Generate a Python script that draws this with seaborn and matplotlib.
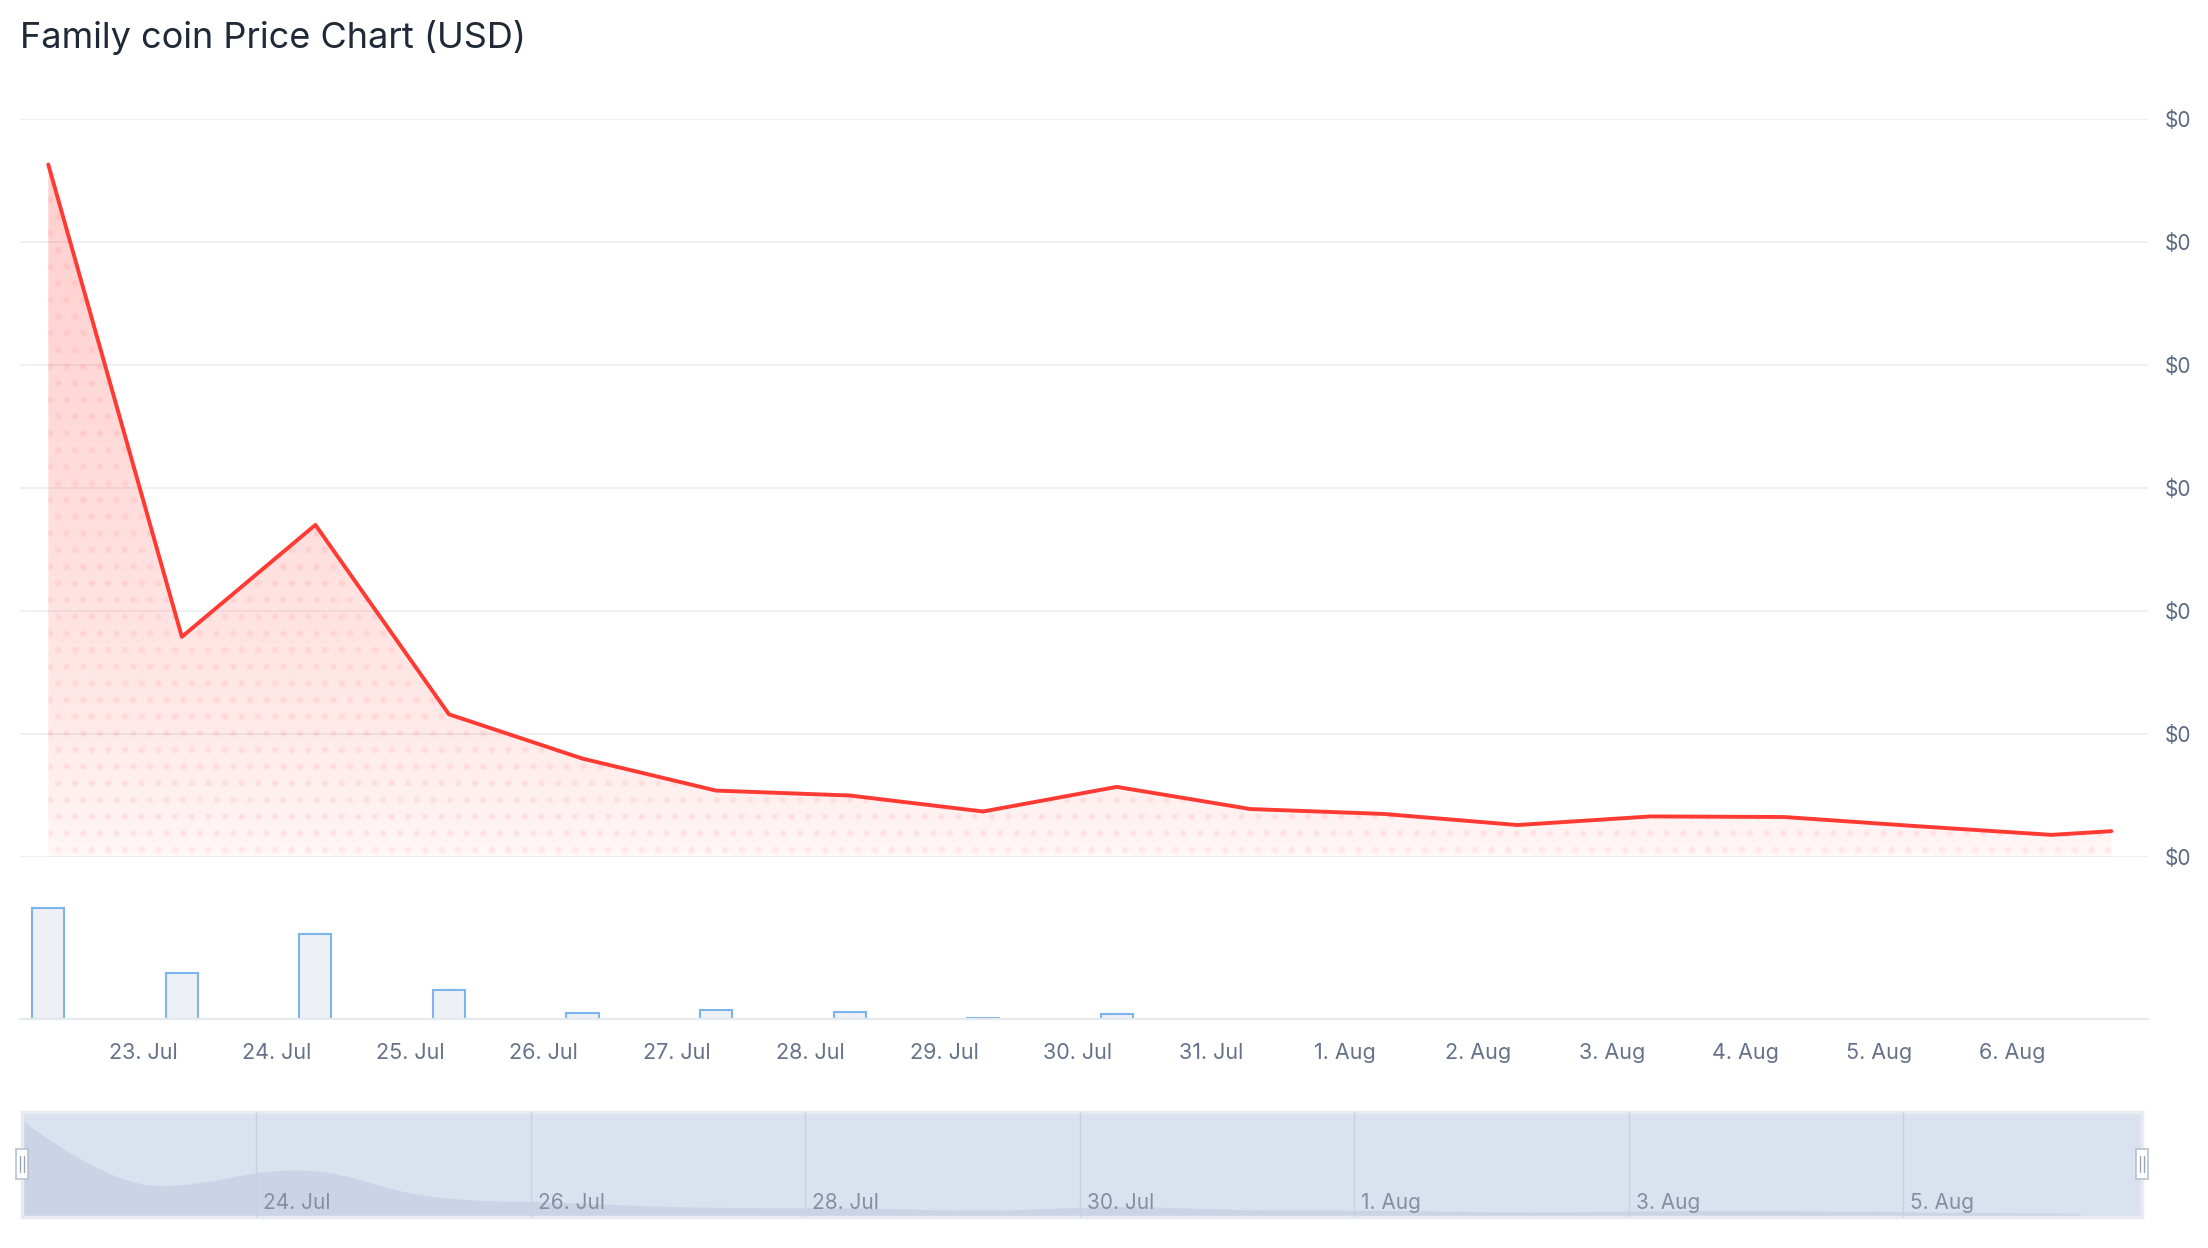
import matplotlib
matplotlib.use("Agg")
import matplotlib.pyplot as plt
import matplotlib.dates as mdates
from matplotlib.path import Path
from matplotlib.patches import PathPatch, Rectangle
from matplotlib.colors import to_rgb
from matplotlib.ticker import FuncFormatter
import numpy as np
import pandas as pd
import seaborn as sns

# values (price in nano-USD, volume in relative units)
dates = ["2023-07-22 07:00", "2023-07-23 07:00", "2023-07-24 07:00", "2023-07-25 07:00",
         "2023-07-26 07:00", "2023-07-27 07:00", "2023-07-28 07:00", "2023-07-29 07:00",
         "2023-07-30 07:00", "2023-07-31 07:00", "2023-08-01 07:00", "2023-08-02 07:00",
         "2023-08-03 07:00", "2023-08-04 07:00", "2023-08-05 07:00", "2023-08-06 07:00",
         "2023-08-06 17:45"]
prices = [5.63, 1.79, 2.70, 1.16, 0.80, 0.54, 0.50, 0.37, 0.57, 0.39, 0.35, 0.26,
          0.33, 0.325, 0.25, 0.18, 0.21]
volumes = [111, 46, 85, 29, 6, 9, 7, 1.5, 5, 0, 0, 0, 0, 0, 0, 0, 0]
nav_ticks = ["2023-07-24", "2023-07-26", "2023-07-28", "2023-07-30",
             "2023-08-01", "2023-08-03", "2023-08-05"]
nav_labels = ["24. Jul", "26. Jul", "28. Jul", "30. Jul", "1. Aug", "3. Aug", "5. Aug"]
title = "Family coin Price Chart (USD)"

RED = "#ff3a33"
GRID = "#edf0f4"

sns.set_style("white")
plt.rcParams["font.family"] = ["Inter", "DejaVu Sans"]
plt.rcParams["hatch.linewidth"] = 2.8

df = pd.DataFrame({"date": pd.to_datetime(dates), "price": prices, "volume": volumes})
xnum = mdates.date2num(df["date"])

W, H = 2208, 1248
fig = plt.figure(figsize=(W / 100, H / 100), dpi=100)


def box(l, t, r, b):
    return [l / W, 1 - b / H, (r - l) / W, (b - t) / H]


ax = fig.add_axes(box(20, 119, 2148, 857))
axv = fig.add_axes(box(20, 890, 2148, 1019), sharex=ax)
axn = fig.add_axes(box(22, 1112, 2142, 1217))

# --- price line with gradient + dotted fill
sns.lineplot(data=df, x="date", y="price", ax=ax, color=RED, linewidth=2.8, zorder=4)
poly = ax.fill_between(xnum, df["price"], 0, facecolor="none", edgecolor="none", lw=0)
ymax = df["price"].max()
yy = np.linspace(0, ymax, 256)
grad = np.zeros((256, 2, 4))
grad[..., :3] = to_rgb(RED)
grad[..., 3] = (0.03 + 0.21 * (yy / ymax) ** 0.6)[:, None]
img = ax.imshow(grad, extent=[xnum[0], xnum[-1], 0, ymax], origin="lower",
                aspect="auto", zorder=1, interpolation="bilinear")
img.set_clip_path(poly.get_paths()[0], ax.transData)
ax.fill_between(xnum, df["price"], 0, facecolor="none", edgecolor=(1, 0.25, 0.25, 0.06),
                hatch=".", lw=0, zorder=2)

ax.set_xlim(mdates.date2num(pd.Timestamp("2023-07-22 01:55")),
            mdates.date2num(pd.Timestamp("2023-08-07 00:20")))
ax.set_ylim(0, 6)
ax.set_yticks(range(7))
ax.yaxis.tick_right()
ax.yaxis.set_major_formatter(FuncFormatter(lambda v, p: f"${v * 1e-9:.0f}"))
ax.tick_params(axis="y", length=0, pad=12, labelsize=15, labelcolor="#5b6a82")
ax.tick_params(axis="x", length=0, labelbottom=False)
ax.yaxis.grid(True, color=GRID, lw=1.3)
ax.set_axisbelow(True)
for s in ax.spines.values():
    s.set_visible(False)
ax.set_xlabel("")
ax.set_ylabel("")

# --- volume bars
vol = df[df["volume"] > 0]
axv.bar(mdates.date2num(vol["date"]), vol["volume"], width=0.24, color="#edf0f4",
        edgecolor="#7cb5ec", lw=1.5)
axv.set_ylim(0, 129)
axv.set_yticks([])
for k, s in axv.spines.items():
    s.set_visible(k == "bottom")
axv.spines["bottom"].set_color("#e6e9ee")
axv.spines["bottom"].set_linewidth(1.6)
axv.set_xticks(mdates.date2num(pd.date_range("2023-07-23", "2023-08-06")))
axv.xaxis.set_major_formatter(mdates.DateFormatter("%-d. %b"))
axv.tick_params(axis="x", length=12, width=1, color="#e6e9ee", labelsize=15.5,
                labelcolor="#66728a", pad=5)

# --- navigator
axn.set_facecolor("#dae1ef")
nx, ny = xnum[:-1], df["price"].to_numpy()[:-1]
smooth, denom = 1.5, 2.5
lc = list(zip(nx, ny))
rc = list(zip(nx, ny))
for i in range(1, len(nx) - 1):
    lx = (smooth * nx[i] + nx[i - 1]) / denom
    ly = (smooth * ny[i] + ny[i - 1]) / denom
    rx = (smooth * nx[i] + nx[i + 1]) / denom
    ry = (smooth * ny[i] + ny[i + 1]) / denom
    corr = (ry - ly) * (rx - nx[i]) / (rx - lx) + ny[i] - ry
    ly += corr
    ry += corr
    if ly > ny[i - 1] and ly > ny[i]:
        ly = max(ny[i - 1], ny[i]); ry = 2 * ny[i] - ly
    elif ly < ny[i - 1] and ly < ny[i]:
        ly = min(ny[i - 1], ny[i]); ry = 2 * ny[i] - ly
    if ry > ny[i + 1] and ry > ny[i]:
        ry = max(ny[i + 1], ny[i]); ly = 2 * ny[i] - ry
    elif ry < ny[i + 1] and ry < ny[i]:
        ry = min(ny[i + 1], ny[i]); ly = 2 * ny[i] - ry
    lc[i] = (lx, ly)
    rc[i] = (rx, ry)
verts = [(nx[0], ny[0])]
codes = [Path.MOVETO]
for i in range(1, len(nx)):
    verts += [rc[i - 1], lc[i], (nx[i], ny[i])]
    codes += [Path.CURVE4] * 3
verts += [(nx[-1], 0), (nx[0], 0), (nx[0], 0)]
codes += [Path.LINETO, Path.LINETO, Path.CLOSEPOLY]
axn.add_patch(PathPatch(Path(verts, codes), facecolor="#cbd4e7", edgecolor="none", zorder=2))

axn.set_xlim(xnum[0], xnum[-1])
axn.set_ylim(0, 6.1)
axn.set_xticks([])
axn.set_yticks([])
for s in axn.spines.values():
    s.set_color("#e8ecf2")
    s.set_linewidth(2.5)
for d, lab in zip(nav_ticks, nav_labels):
    xd = mdates.date2num(pd.Timestamp(d))
    axn.axvline(xd, color="#c8d1e1", lw=1, zorder=3)
    axn.text(xd + 0.05, 0.13, lab, transform=axn.get_xaxis_transform(), fontsize=15,
             color="#858fa2", va="center", ha="left", zorder=4)
for hx in (0, 1):
    axn.add_patch(Rectangle((hx - 0.003, 0.36), 0.006, 0.29, transform=axn.transAxes,
                            facecolor="white", edgecolor="#b8c1cf", lw=1.2,
                            clip_on=False, zorder=6))
    for dx in (-0.0009, 0.0009):
        axn.plot([hx + dx, hx + dx], [0.43, 0.58], transform=axn.transAxes,
                 color="#9aa4b5", lw=1, clip_on=False, zorder=7)

fig.text(20 / W, 1 - 48 / H, title, fontsize=26, color="#1f2937", ha="left", va="baseline")

fig.savefig("out.png", dpi=100)
